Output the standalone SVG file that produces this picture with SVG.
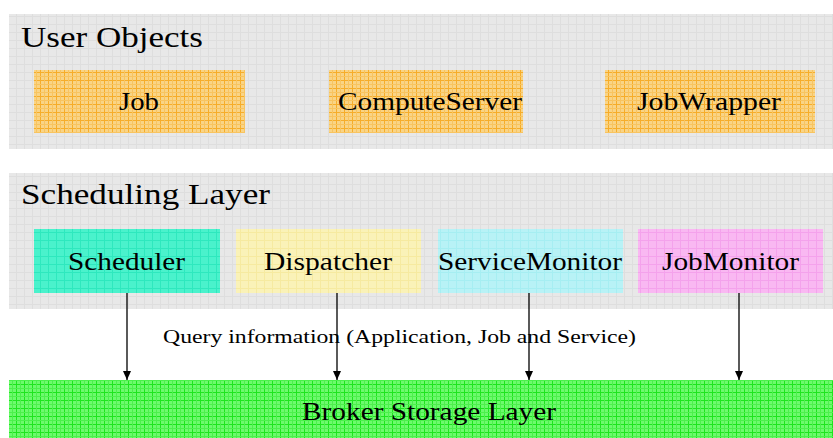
<svg xmlns="http://www.w3.org/2000/svg" width="833" height="438" viewBox="0 0 833 438">
<style>
text{font-family:"Liberation Serif","Times New Roman",serif;fill:#000}
.title{font-size:30px}
.lbl{font-size:25px;text-anchor:start}
.note{font-size:18px}
.conn line{stroke:#000;stroke-width:1.3}
</style>
<defs>
<pattern id="pGray" width="8" height="8" patternUnits="userSpaceOnUse">
<rect width="8" height="8" fill="#e8e8e8"/>
<path d="M0 0.5H8M0.5 0V8" stroke="#dedede" stroke-width="1"/>
</pattern>
<pattern id="pOrange" width="8" height="8" patternUnits="userSpaceOnUse">
<rect width="8" height="8" fill="#f9d486"/>
<path d="M0 0.5H8M0.5 0V8" stroke="#f6ad2a" stroke-width="1"/>
<path d="M0 4.5H8M4.5 0V8" stroke="#f8c460" stroke-width="1"/>
</pattern>
<pattern id="pGreen" width="8" height="8" patternUnits="userSpaceOnUse">
<rect width="8" height="8" fill="#6dfa6d"/>
<path d="M0 0.5H8M0.5 0V8" stroke="#1fe41f" stroke-width="1"/>
<path d="M0 4.5H8M4.5 0V8" stroke="#4cf04c" stroke-width="1"/>
</pattern>
<pattern id="pTeal" width="8" height="8" patternUnits="userSpaceOnUse">
<rect width="8" height="8" fill="#4af2cc"/>
<path d="M0 0.5H8M0.5 0V8" stroke="#2ee8be" stroke-width="1"/>
</pattern>
<pattern id="pYellow" width="8" height="8" patternUnits="userSpaceOnUse">
<rect width="8" height="8" fill="#faf2b8"/>
<path d="M0 0.5H8M0.5 0V8" stroke="#f6eaa0" stroke-width="1"/>
</pattern>
<pattern id="pCyan" width="8" height="8" patternUnits="userSpaceOnUse">
<rect width="8" height="8" fill="#b8f2f6"/>
<path d="M0 0.5H8M0.5 0V8" stroke="#a6eef2" stroke-width="1"/>
</pattern>
<pattern id="pPink" width="8" height="8" patternUnits="userSpaceOnUse">
<rect width="8" height="8" fill="#f9b8f2"/>
<path d="M0 0.5H8M0.5 0V8" stroke="#f4a2ec" stroke-width="1"/>
</pattern>
<marker id="arr" markerWidth="10" markerHeight="10" refX="9" refY="4" orient="auto" markerUnits="userSpaceOnUse">
<path d="M0 0L9 4L0 8Z" fill="#000"/>
</marker>
</defs>
<rect width="833" height="438" fill="#fff"/>

<g id="user-objects">
<rect x="9" y="14" width="824" height="135" fill="url(#pGray)"/>
<text class="title" x="21" y="47" textLength="182" lengthAdjust="spacingAndGlyphs">User Objects</text>
</g>
<g id="job">
<rect x="34" y="70" width="211" height="63" fill="url(#pOrange)"/>
<text class="lbl" x="119" y="110" textLength="40" lengthAdjust="spacingAndGlyphs">Job</text>
</g>
<g id="computeserver">
<rect x="329" y="70" width="194" height="63" fill="url(#pOrange)"/>
<text class="lbl" x="338" y="110" textLength="184" lengthAdjust="spacingAndGlyphs">ComputeServer</text>
</g>
<g id="jobwrapper">
<rect x="605" y="70" width="210" height="63" fill="url(#pOrange)"/>
<text class="lbl" x="637" y="110" textLength="144" lengthAdjust="spacingAndGlyphs">JobWrapper</text>
</g>

<g id="scheduling-layer">
<rect x="9" y="173" width="824" height="136" fill="url(#pGray)"/>
<text class="title" x="21" y="204" textLength="249" lengthAdjust="spacingAndGlyphs">Scheduling Layer</text>
</g>
<g id="scheduler">
<rect x="34" y="229" width="186" height="64" fill="url(#pTeal)"/>
<text class="lbl" x="68" y="270" textLength="117" lengthAdjust="spacingAndGlyphs">Scheduler</text>
</g>
<g id="dispatcher">
<rect x="236" y="229" width="185" height="64" fill="url(#pYellow)"/>
<text class="lbl" x="264" y="270" textLength="128" lengthAdjust="spacingAndGlyphs">Dispatcher</text>
</g>
<g id="servicemonitor">
<rect x="438" y="229" width="185" height="64" fill="url(#pCyan)"/>
<text class="lbl" x="438" y="270" textLength="184" lengthAdjust="spacingAndGlyphs">ServiceMonitor</text>
</g>
<g id="jobmonitor">
<rect x="638" y="229" width="185" height="64" fill="url(#pPink)"/>
<text class="lbl" x="662" y="270" textLength="137" lengthAdjust="spacingAndGlyphs">JobMonitor</text>
</g>

<g id="broker-storage-layer">
<rect x="9" y="380" width="824" height="58" fill="url(#pGreen)"/>
<text class="lbl" x="302" y="420" textLength="254" lengthAdjust="spacingAndGlyphs">Broker Storage Layer</text>
</g>

<g id="query-label">
<text class="note" x="163" y="343" textLength="473" lengthAdjust="spacingAndGlyphs">Query information (Application, Job and Service)</text>
</g>

<g id="connectors" class="conn">
<line x1="127" y1="293" x2="127" y2="380" marker-end="url(#arr)"/>
<line x1="337" y1="293" x2="337" y2="380" marker-end="url(#arr)"/>
<line x1="529" y1="293" x2="529" y2="380" marker-end="url(#arr)"/>
<line x1="739" y1="293" x2="739" y2="380" marker-end="url(#arr)"/>
</g>
</svg>
